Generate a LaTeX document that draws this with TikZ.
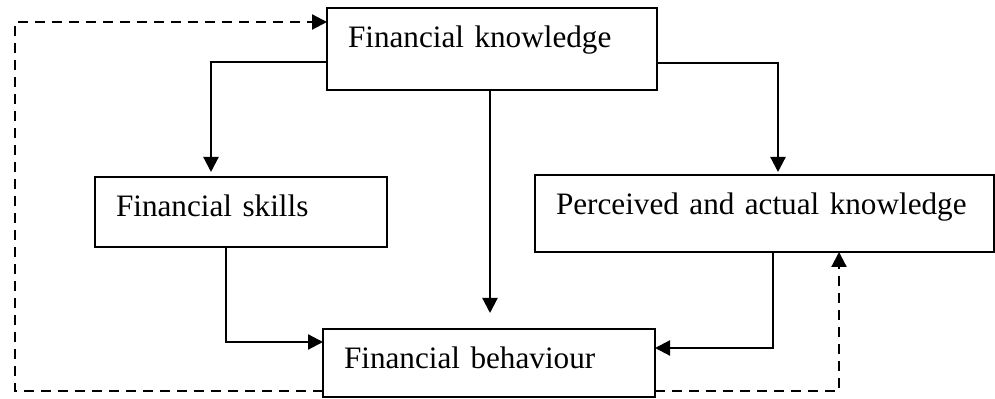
\documentclass[tikz,border=0pt]{standalone}
\usepackage{fontspec}
\setmainfont{Liberation Serif}
\usetikzlibrary{arrows.meta}

\begin{document}
\begin{tikzpicture}[x=0.5pt, y=-0.5pt,
    box/.style={draw, line width=1pt, rectangle, anchor=north west, outer sep=0pt,
        inner xsep=10.5pt, inner ysep=0pt, align=left, text height=19.75pt,
        font=\fontsize{15.6}{19}\selectfont},
    arr/.style={line width=1.1pt, -{Triangle[length=7.5pt, width=7.5pt]}},
    back/.style={line width=1.1pt, dash pattern=on 5pt off 3.5pt, -{Triangle[length=7.5pt, width=7.5pt]}}]
    \useasboundingbox (0,0) rectangle (995,399);
    \node[box, text width=144pt, text depth=21.25pt] (fk) at (327,8) {Financial knowledge};
    \node[box, text width=125pt, text depth=15.25pt] (skills) at (95,177) {Financial skills};
    \node[box, text width=208.5pt, text depth=18.75pt] (per) at (535,175) {Perceived and actual knowledge};
    \node[box, text width=145pt, text depth=14.25pt] (bhv) at (323,329) {Financial behaviour};
    \coordinate (loop) at (15,200);
    \draw[arr, shorten >=2.5pt] ([yshift=-6.5pt]fk.west) -| ([xshift=-15pt]skills.north);
    \draw[arr, shorten >=8pt] ([xshift=-1pt]fk.south) -- ([xshift=-1pt]fk.south |- bhv.north);
    \draw[arr, shorten >=1.5pt] ([yshift=-7pt]fk.east) -| ([xshift=6.75pt]per.north);
    \draw[arr] ([xshift=-7.5pt]skills.south) |- ([yshift=10.5pt]bhv.west);
    \draw[arr] ([xshift=4.25pt]per.south) |- ([yshift=7.5pt]bhv.east);
    \draw[back] ([yshift=-14pt]bhv.west) -| (loop) |- ([yshift=13.5pt]fk.west);
    \draw[back] ([yshift=-14pt]bhv.east) -| ([xshift=37.25pt]per.south);
\end{tikzpicture}
\end{document}
